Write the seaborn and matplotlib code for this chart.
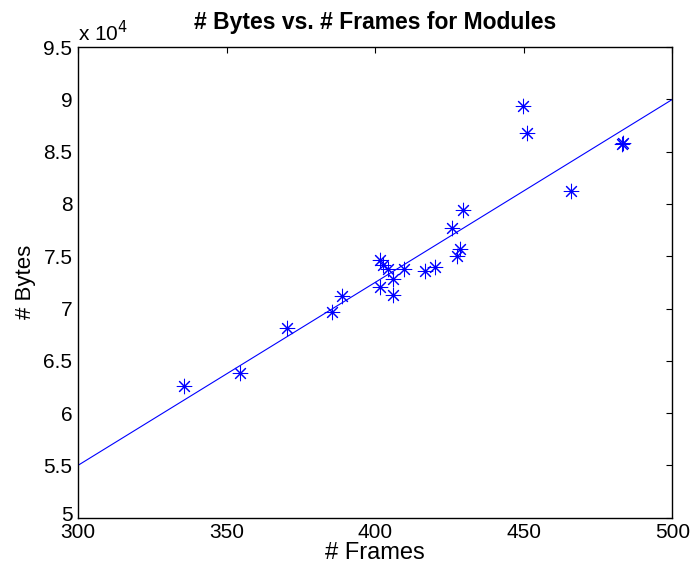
import matplotlib
matplotlib.use("Agg")
import matplotlib.pyplot as plt
import matplotlib.transforms as mtransforms
import numpy as np
import pandas as pd
import seaborn as sns

# values
frames = [335.7, 354.5, 370.3, 385.3, 388.7, 401.6, 401.6, 402.7, 404.3,
          405.9, 405.9, 409.8, 416.7, 420.1, 425.7, 427.6, 428.5, 429.6,
          449.8, 450.9, 465.7, 482.9, 483.2]
bytes_ = [62600, 63800, 68100, 69700, 71200, 74600, 72100, 74200, 73800,
          72800, 71300, 73800, 73600, 74000, 77700, 75000, 75700, 79400,
          89400, 86800, 81200, 85700, 85800]

fit_x = [300, 500]
fit_y = [55000, 90000]

y_ticks = [50000, 55000, 60000, 65000, 70000, 75000, 80000, 85000, 90000, 95000]
x_ticks = [300, 350, 400, 450, 500]

df = pd.DataFrame({"frames": frames, "bytes": bytes_})
fit = pd.DataFrame({"frames": fit_x, "bytes": fit_y})

sns.set_style("white")
plt.rcParams['font.family'] = ['Liberation Sans', 'DejaVu Sans']
plt.rcParams['xtick.direction'] = 'in'
plt.rcParams['ytick.direction'] = 'in'
plt.rcParams['text.color'] = 'black'
plt.rcParams['axes.labelcolor'] = 'black'
plt.rcParams['xtick.color'] = 'black'
plt.rcParams['ytick.color'] = 'black'

fig = plt.figure(figsize=(6.9, 5.67), dpi=100)
ax = fig.add_axes([0.113, 0.087, 0.8616, 0.830])

sns.scatterplot(data=df, x="frames", y="bytes", ax=ax, marker=(8, 2, 0),
                color="blue", edgecolor="blue", s=110, linewidth=0.75, zorder=3)
sns.lineplot(data=fit, x="frames", y="bytes", ax=ax, color="blue", linewidth=0.8)

ax.set_xlim(300, 500)
ax.set_ylim(50000, 95000)
ax.set_xticks(x_ticks)
ax.set_yticks(y_ticks)
ax.set_yticklabels([f"{v / 10000:g}" for v in y_ticks])
ax.tick_params(axis="both", labelsize=15, length=4, width=0.8,
               top=True, right=True)
ax.tick_params(axis="x", pad=4)
ax.tick_params(axis="y", pad=4)
for s in ax.spines.values():
    s.set_linewidth(1.0)
    s.set_color("black")

# lift the bottom y label a little so it clears the "300"
lbl = ax.get_yticklabels()[0]
lbl.set_transform(lbl.get_transform() +
                  mtransforms.ScaledTranslation(0, 3 / 72, fig.dpi_scale_trans))

ax.set_xlabel("# Frames", fontsize=17, labelpad=0)
ax.set_ylabel("# Bytes", fontsize=16, labelpad=5)
ax.set_title("# Bytes vs. # Frames for Modules", fontsize=16.5,
             fontweight="bold", pad=13)
ax.text(0.0, 1.003, r"x 10$^{4}$", transform=ax.transAxes, fontsize=15,
        ha="left", va="bottom")

fig.savefig("out.png", dpi=100)
